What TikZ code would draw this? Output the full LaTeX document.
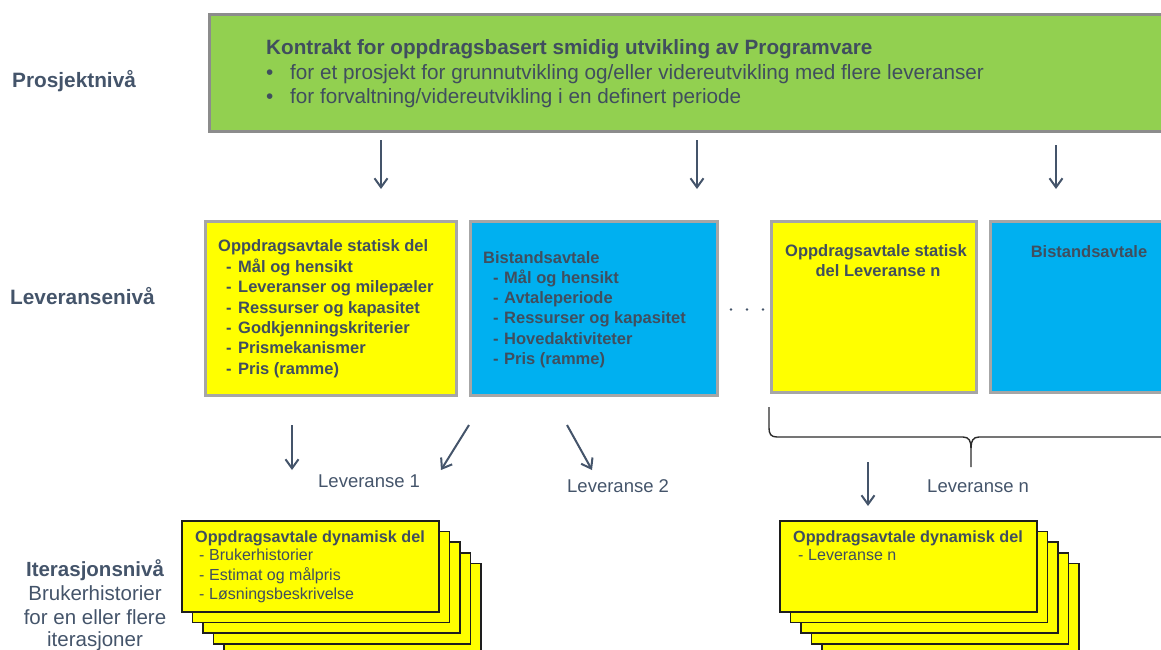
\documentclass[tikz,border=0pt]{standalone}
\usepackage{fontspec}
\setmainfont{Liberation Sans}
\usetikzlibrary{arrows.meta}
\definecolor{slate}{HTML}{44546A}
\definecolor{boxtext}{HTML}{404E5E}
\definecolor{greenfill}{HTML}{92D050}
\definecolor{greenborder}{HTML}{8C8C8C}
\definecolor{yellowfill}{HTML}{FFFF00}
\definecolor{bluefill}{HTML}{00B0F0}
\definecolor{lvlborder}{HTML}{A6A6A6}
\definecolor{stackborder}{HTML}{1E1E1E}
\definecolor{bracecol}{HTML}{2B2B2B}
\tikzset{
  greenbox/.style={draw=greenborder, line width=3pt, fill=greenfill, anchor=north west, inner sep=0pt},
  lvlbox/.style={draw=lvlborder, line width=3pt, anchor=north west, inner sep=0pt},
  stackbox/.style={draw=stackborder, line width=1.6pt, fill=yellowfill, anchor=north west, inner sep=0pt},
  arr/.style={draw=slate, line width=2pt, -{Straight Barb[length=9pt,width=13pt,line width=2pt]}},
  levellabel/.style={font=\fontsize{20.8}{24}\selectfont\bfseries, text=slate, anchor=base west, inner sep=0pt},
  sidetext/.style={font=\fontsize{20.5}{24}\selectfont, text=slate, anchor=base, inner sep=0pt},
  gtitle/.style={font=\fontsize{20.7}{24}\selectfont\bfseries, text=boxtext, anchor=base west, inner sep=0pt},
  gline/.style={font=\fontsize{20.7}{24}\selectfont, text=boxtext, anchor=base west, inner sep=0pt},
  btitle/.style={font=\fontsize{16.5}{20}\selectfont\bfseries, text=boxtext, inner sep=0pt},
  sline/.style={font=\fontsize{16}{20}\selectfont, text=boxtext, anchor=base west, inner sep=0pt},
  levtext/.style={font=\fontsize{18.5}{22}\selectfont, text=slate, anchor=base west, inner sep=0pt},
}
\begin{document}
\begin{tikzpicture}[x=1pt,y=-1pt]
\useasboundingbox (0,0) rectangle (1161,649);
\clip (0,0) rectangle (1161,649);

% ---------- project level ----------
\node[greenbox, minimum width=1000pt, minimum height=117pt] (contract) at (208,13) {};
\node[gtitle] (ctitle) at (266,54.5) {Kontrakt for oppdragsbasert smidig utvikling av Programvare};
\node[gline] (cb1) at (266,79) {•};
\node[gline] (cl1) at (290,79) {for et prosjekt for grunnutvikling og/eller videreutvikling med flere leveranser};
\node[gline] (cb2) at (266,103.5) {•};
\node[gline] (cl2) at (290,103.5) {for forvaltning/videreutvikling i en definert periode};

\node[levellabel] (lp) at (12,87) {Prosjektnivå};
\node[levellabel] (ll) at (10,304) {Leveransenivå};
\node[sidetext, font=\fontsize{20.5}{24}\selectfont\bfseries] (li1) at (95,576) {Iterasjonsnivå};
\node[sidetext] (li2) at (95,600) {Brukerhistorier};
\node[sidetext] (li3) at (95,624) {for en eller flere};
\node[sidetext] (li4) at (95,646) {iterasjoner};

% arrows from contract
\coordinate (t1s) at (381,140); \coordinate (t1e) at (381,189);
\coordinate (t2s) at (697,140); \coordinate (t2e) at (697,189);
\coordinate (t3s) at (1056,145); \coordinate (t3e) at (1056,189);
\draw[arr] (t1s) -- (t1e);
\draw[arr] (t2s) -- (t2e);
\draw[arr] (t3s) -- (t3e);

% ---------- delivery level ----------
\node[lvlbox, fill=yellowfill, minimum width=251pt, minimum height=174pt] (y1) at (204,220) {};
\node[lvlbox, fill=bluefill, minimum width=247pt, minimum height=174pt] (b1) at (469,220) {};
\node[lvlbox, fill=yellowfill, minimum width=205pt, minimum height=171pt] (y2) at (770,220) {};
\node[lvlbox, fill=bluefill, minimum width=205pt, minimum height=171pt] (b2) at (989,220) {};

\node[btitle, anchor=base west] (y1t) at (218,251) {Oppdragsavtale statisk del};
\foreach \yy/\tt [count=\i] in {272.5/Mål og hensikt, 292.8/Leveranser og milepæler, 313.1/Ressurser og kapasitet, 333.4/Godkjenningskriterier, 353.7/Prismekanismer, 374/Pris (ramme)} {
  \node[btitle, anchor=base west] (y1d\i) at (226,\yy) {-};
  \node[btitle, anchor=base west] (y1l\i) at (238,\yy) {\tt};
}
\node[btitle, anchor=base west] (b1t) at (483,263) {Bistandsavtale};
\foreach \yy/\tt [count=\i] in {283.3/Mål og hensikt, 303.6/Avtaleperiode, 323.9/Ressurser og kapasitet, 344.2/Hovedaktiviteter, 364.5/Pris (ramme)} {
  \node[btitle, anchor=base west] (b1d\i) at (493,\yy) {-};
  \node[btitle, anchor=base west] (b1l\i) at (504,\yy) {\tt};
}
\node[btitle, anchor=base] (y2t1) at (876,256) {Oppdragsavtale statisk};
\node[btitle, anchor=base] (y2t2) at (878,276.5) {del Leveranse n};
\node[btitle, anchor=base] (b2t) at (1089,257) {Bistandsavtale};

% dots
\foreach \xx [count=\i] in {731,747,763} {
  \fill[slate] (\xx,309.5) circle (1.3pt) coordinate (dot\i);
}

% arrows to deliveries
\coordinate (d1s) at (292,425); \coordinate (d1e) at (292,470);
\coordinate (d2s) at (469,425); \coordinate (d2e) at (441,470);
\coordinate (d3s) at (567,425); \coordinate (d3e) at (592,470);
\draw[arr] (d1s) -- (d1e);
\draw[arr] (d2s) -- (d2e);
\draw[arr] (d3s) -- (d3e);

\node[levtext] (lev1) at (318,487) {Leveranse 1};
\node[levtext] (lev2) at (567,492) {Leveranse 2};
\node[levtext] (levn) at (927,492) {Leveranse n};

% brace
\coordinate (brL) at (769,407);
\coordinate (brT) at (971,467);
\draw[bracecol, line width=1.4pt]
  (brL) -- (769,428) .. controls (769,434) and (771,437) .. (777,437)
  -- (963,437) .. controls (969,437) and (971,441) .. (971,448) -- (brT);
\draw[bracecol, line width=1.4pt]
  (971,448) .. controls (971,441) and (973,437) .. (979,437) -- (1175,437);

\coordinate (dns) at (868,462); \coordinate (dne) at (868,506);
\draw[arr] (dns) -- (dne);

% ---------- iteration level ----------
\foreach \k in {4,3,2,1,0} {
  \node[stackbox, minimum width=257pt, minimum height=91pt] (ls\k) at ({181+10.6*\k},{520+10.7*\k}) {};
  \node[stackbox, minimum width=257pt, minimum height=91pt] (rs\k) at ({779+10.6*\k},{520+10.7*\k}) {};
}
\node[btitle, font=\fontsize{16.2}{20}\selectfont\bfseries, anchor=base west] (lst) at (195,542) {Oppdragsavtale dynamisk del};
\foreach \yy/\tt [count=\i] in {560.5/Brukerhistorier, 580/Estimat og målpris, 599.5/Løsningsbeskrivelse} {
  \node[sline] (lsd\i) at (199,\yy) {-};
  \node[sline] (lsl\i) at (209,\yy) {\tt};
}
\node[btitle, font=\fontsize{16.2}{20}\selectfont\bfseries, anchor=base west] (rst) at (793,542) {Oppdragsavtale dynamisk del};
\node[sline] (rsd1) at (798,560.5) {-};
\node[sline] (rsl1) at (808,560.5) {Leveranse n};
\end{tikzpicture}
\end{document}
